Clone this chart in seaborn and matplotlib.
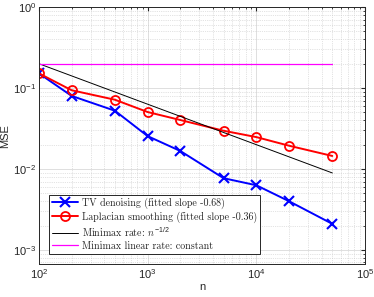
import numpy as np
import pandas as pd
import matplotlib
matplotlib.use('Agg')
import matplotlib.pyplot as plt
import seaborn as sns

# datos
n = [100, 200, 500, 1000, 2000, 5000, 10000, 20000, 50000]
mse_tv = [0.152, 0.080, 0.0525, 0.0255, 0.0167, 0.0077, 0.0063, 0.0040, 0.0021]
mse_lap = [0.152, 0.094, 0.0718, 0.0506, 0.0403, 0.0297, 0.0248, 0.0194, 0.0145]
n_ref = [100, 50000]
minimax = [0.2, 0.00894]
minimax_lin = [0.2, 0.2]

labels = ['TV denoising (fitted slope -0.68)',
          'Laplacian smoothing (fitted slope -0.36)',
          r'Minimax rate: $n^{-1/2}$',
          'Minimax linear rate: constant']

sns.set_style('white')
plt.rcParams['font.family'] = ['Liberation Sans', 'DejaVu Sans']
plt.rcParams['mathtext.fontset'] = 'custom'
plt.rcParams['mathtext.rm'] = 'Liberation Sans'
plt.rcParams['mathtext.it'] = 'cmmi10'
plt.rcParams['axes.unicode_minus'] = False

df = pd.DataFrame({'n': n, 'tv': mse_tv, 'lap': mse_lap})
df_ref = pd.DataFrame({'n': n_ref, 'mm': minimax, 'ml': minimax_lin})

fig = plt.figure(figsize=(3.74, 2.97), dpi=100)
ax = fig.add_axes([0.104, 0.111, 0.872, 0.865])

sns.lineplot(data=df, x='n', y='tv', ax=ax, color='#0000ff', lw=1.4, ls='-',
             marker='x', markersize=6.5, markeredgewidth=1.5,
             markeredgecolor='#0000ff', label=labels[0])
sns.lineplot(data=df, x='n', y='lap', ax=ax, color='#ff0000', lw=1.4, ls='-',
             marker='o', markersize=6.5, markeredgewidth=1.3,
             markerfacecolor='none', markeredgecolor='#ff0000', label=labels[1])
sns.lineplot(data=df_ref, x='n', y='mm', ax=ax, color='black', lw=0.7, label=labels[2])
sns.lineplot(data=df_ref, x='n', y='ml', ax=ax, color='#ff00ff', lw=0.9, label=labels[3])

ax.set_xscale('log')
ax.set_yscale('log')
ax.set_xlim(1e2, 1e5)
ax.set_ylim(6.7e-4, 1)
ax.set_xlabel('n', fontsize=8, labelpad=1)
ax.set_ylabel('MSE', fontsize=8, labelpad=2)

ax.grid(True, which='major', color='#d9d9d9', lw=0.6, ls='-')
ax.grid(True, which='minor', color='#c8c8c8', lw=0.5, ls=':')
ax.tick_params(which='both', direction='in', top=True, right=True, labelsize=8,
               color='#262626', pad=2)
ax.tick_params(which='major', length=3)
ax.tick_params(which='minor', length=1.5)
for s in ax.spines.values():
    s.set_color('#262626')
    s.set_linewidth(0.7)

leg = ax.legend(loc='lower left', bbox_to_anchor=(0.015, 0.02), fancybox=False,
                framealpha=1, edgecolor='#262626', borderpad=0.3, labelspacing=0.25,
                handlelength=2.6, handletextpad=0.4,
                prop={'family': 'cmr10', 'size': 7.2})
leg.get_frame().set_linewidth(0.7)

fig.savefig('out.png', dpi=100)
